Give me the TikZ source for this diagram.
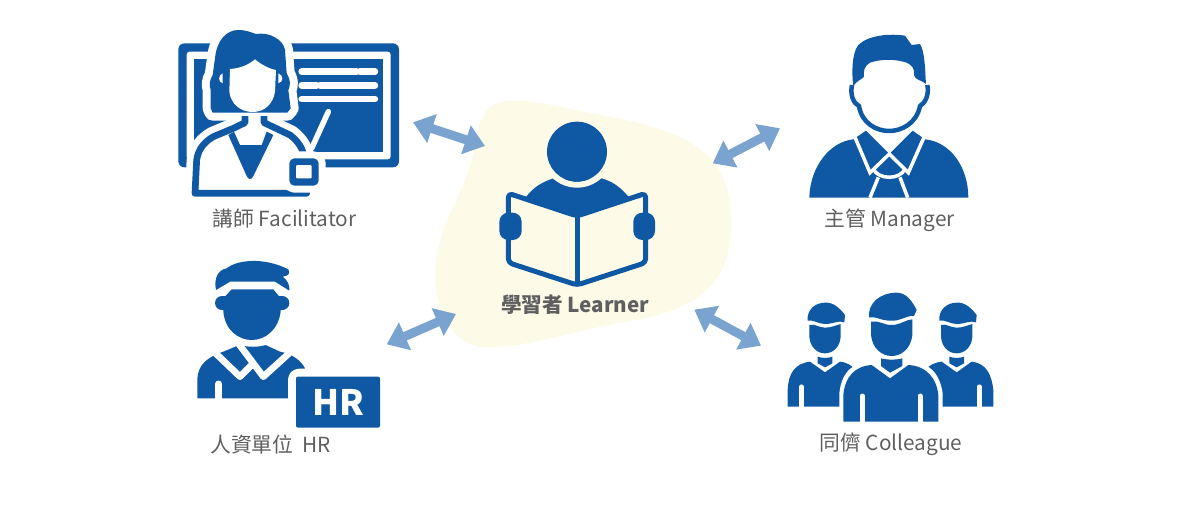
\documentclass[tikz,border=0pt]{standalone}
\usepackage{xcolor}
\usepackage{fontspec}
\setmainfont{Noto Sans CJK TC}
\usetikzlibrary{arrows.meta}
\definecolor{c_icon}{HTML}{0F59A4}
\definecolor{c_arrow}{HTML}{7BA3CF}
\definecolor{c_blob}{HTML}{FDFAE8}
\definecolor{c_text}{HTML}{5F5F5F}
\tikzset{c-label/.style={text=c_text, font=\fontsize{20.8}{24}\selectfont, inner sep=0pt},
arrow/.style={line width=9pt, c_arrow, {Triangle[length=20pt,width=29pt]}-{Triangle[length=20pt,width=29pt]}},
gap/.style={draw=white, line cap=round, line join=round},
ring/.style={draw=c_icon, line join=round}}
\begin{document}
\begin{tikzpicture}[x=1pt, y=-1pt]
\useasboundingbox (0,0) rectangle (1200,507);
\fill [c_blob] (490,107) .. controls (505,95) and (540,102) .. (575,110) .. controls (620,120) and (680,125) .. (712,160) .. controls (735,185) and (735,235) .. (725,262) .. controls (712,300) and (670,315) .. (625,322) .. controls (575,330) and (520,350) .. (480,347) .. controls (445,340) and (432,300) .. (436,262) .. controls (440,220) and (470,185) .. (475,145) .. controls (478,125) and (482,115) .. (490,107) -- cycle;

% facilitator
\begin{scope}[shift={(170,20)}, scale=1/3]
\fill [c_icon, rounded corners=6pt] (25,70) rectangle (687,442);
\fill [white, rounded corners=3pt] (50,95) rectangle (662,418);
\fill [c_icon] (73,118) rectangle (640,395);
\foreach \xa/\xb/\ya in {395/560/155, 570/615/155, 395/440/196, 450/615/196, 395/615/237}
  \draw [white, line width=6.5pt, line cap=round] (\xa,\ya) -- (\xb,\ya);
\draw [white, line width=5.5pt, line cap=round] (475,275) -- (425,385);
\path [gap, line width=20pt, fill=white] (75,520) -- (80,420) .. controls (85,385) and (105,365) .. (130,350) -- (190,325) -- (225,308) -- (225,288) -- (282,288) -- (282,308) -- (360,345) .. controls (380,360) and (395,380) .. (400,400) -- (410,520) -- cycle;
\path [gap, line width=16pt, fill=white] (128,278) -- (122,265) -- (122,210) .. controls (118,195) and (118,180) .. (128,165) -- (135,115) .. controls (140,60) and (170,30) .. (205,30) .. controls (230,30) and (245,38) .. (258,42) .. controls (300,35) and (340,60) .. (345,90) -- (350,160) .. controls (362,180) and (362,195) .. (355,210) -- (362,265) -- (352,278) -- cycle;
\draw [ring, line width=6.7pt] (225,288) -- (225,308) -- (190,325) -- (130,350) .. controls (105,365) and (85,385) .. (80,420) -- (75,520) -- (410,520) -- (400,400) .. controls (395,380) and (380,360) .. (360,345) -- (282,308) -- (282,288);
\fill [c_icon] (175,345) -- (230,468) .. controls (235,480) and (245,480) .. (250,468) -- (310,345) -- (290,335) -- (275,375) -- (210,375) -- (192,335) -- cycle;
\fill [c_icon] (128,278) -- (122,265) -- (122,210) .. controls (118,195) and (118,180) .. (128,165) -- (135,115) .. controls (140,60) and (170,30) .. (205,30) .. controls (230,30) and (245,38) .. (258,42) .. controls (300,35) and (340,60) .. (345,90) -- (350,160) .. controls (362,180) and (362,195) .. (355,210) -- (362,265) -- (352,278) -- cycle;
\fill [white] (180,147) .. controls (210,145) and (235,135) .. (255,118) .. controls (275,135) and (300,147) .. (318,150) -- (315,215) .. controls (310,250) and (285,276) .. (248,276) .. controls (210,276) and (182,250) .. (178,215) -- cycle;
\fill [white] (158,160) .. controls (146,165) and (142,185) .. (158,190) -- cycle (325,160) .. controls (340,165) and (342,185) .. (325,190) -- cycle;
\path [gap, line width=14pt, fill=white, rounded corners=5pt] (358,415) rectangle (446,497);
\fill [c_icon, rounded corners=5pt] (358,415) rectangle (446,497);
\fill [white, rounded corners=1pt] (378,435) rectangle (425,475);
\end{scope}
\node (n_facilitator) [c-label] at (284.5,218.5) {講師 Facilitator};

% hr
\begin{scope}[shift={(180,250)}, scale=1/3]
\fill [c_icon] (108,120) .. controls (102,90) and (110,60) .. (140,55) .. controls (170,30) and (250,20) .. (325,58) .. controls (332,70) and (325,78) .. (308,80) .. controls (322,90) and (330,105) .. (328,122) -- (285,95) -- (150,95) -- cycle;
\fill [c_icon, rounded corners=7pt] (105,138) rectangle (328,180);
\fill [c_icon] (155,118) -- (280,118) -- (302,145) -- (302,185) .. controls (295,240) and (255,270) .. (215,270) .. controls (175,270) and (135,240) .. (130,185) -- (130,145) -- cycle;
\fill [c_icon] (52,445) -- (52,385) .. controls (55,345) and (80,322) .. (130,305) -- (178,285) .. controls (205,292) and (235,292) .. (257,285) -- (300,305) .. controls (340,312) and (365,335) .. (375,355) -- (330,445) -- cycle;
\draw [white, line width=6.7pt, line cap=round, line join=round] (105,308) -- (180,380) -- (218,342);
\draw [white, line width=6.7pt, line cap=round, line join=round] (175,280) -- (250,380) -- (325,312);
\draw [white, line width=7pt, line cap=round] (116,402) -- (116,450);
\path [gap, line width=16pt, fill=white, rounded corners=3pt] (348,380) rectangle (600,533);
\fill [c_icon, rounded corners=2pt] (348,380) rectangle (600,533);
\node (n_badge) [text=white, font=\fontsize{35}{40}\selectfont\bfseries, inner sep=0pt] at (476,456) {HR};
\end{scope}
\node (n_hr) [c-label, anchor=west] at (210,444.5) {人資單位 \ HR};

% learner
\begin{scope}[shift={(480,110)}, scale=1/3]
\fill [c_icon] (135,265) .. controls (160,230) and (190,215) .. (220,205) -- (365,205) .. controls (400,215) and (425,235) .. (445,260) -- (291,318) -- cycle;
\draw [c_blob, line width=6pt] (291,125) circle (99);
\fill [c_icon] (291,125) circle (90);
\draw [ring, line width=5pt, rounded corners=4pt] (85,250) -- (291,318) -- (497,250) -- (497,458) -- (291,525) -- (85,458) -- cycle;
\draw [ring, line width=5pt] (291,318) -- (291,525);
\fill [c_icon, rounded corners=9pt] (58,308) rectangle (125,390);
\fill [c_icon, rounded corners=9pt] (460,308) rectangle (525,390);
\end{scope}
\node (n_learner) [c-label, font=\fontsize{20.6}{24}\selectfont\bfseries] at (575,304.5) {學習者 Learner};

% manager
\begin{scope}[shift={(790,20)}, scale=1/3]
\fill [c_icon] (58,533) .. controls (60,440) and (120,365) .. (190,358) -- (228,332) -- (298,402) -- (368,332) -- (405,358) .. controls (480,365) and (535,440) .. (535,533) -- cycle;
\draw [white, line width=3.5pt, line join=miter] (195,352) -- (240,458) -- (298,402) -- (355,458) -- (402,352);
\draw [white, line width=3.5pt] (250,447) .. controls (265,480) and (330,480) .. (345,447);
\draw [white, line width=3.5pt] (265,472) -- (240,533) (330,472) -- (353,533);
\path [ring, line width=4.5pt, fill=white] (186,195) .. controls (180,225) and (190,250) .. (207,258) .. controls (215,310) and (260,333) .. (297,333) .. controls (335,333) and (380,310) .. (390,258) .. controls (405,250) and (418,225) .. (412,195);
\fill [c_icon] (190,200) .. controls (185,160) and (185,100) .. (205,75) .. controls (235,45) and (300,40) .. (345,47) -- (365,75) -- (390,72) .. controls (405,95) and (405,150) .. (408,192) .. controls (390,178) and (375,180) .. (372,165) .. controls (375,145) and (365,135) .. (350,128) .. controls (310,115) and (270,118) .. (240,128) .. controls (222,138) and (220,155) .. (222,170) .. controls (215,180) and (200,180) .. (190,200) -- cycle;
\end{scope}
\node (n_manager) [c-label] at (889.5,220.5) {主管 Manager};

% colleague
\begin{scope}[shift={(775,280)}, scale=1/3]
\foreach \dx in {0,395}
{
\begin{scope}[shift={(\dx,0)}]
\fill [c_icon] (98,122) .. controls (95,90) and (120,68) .. (150,68) .. controls (175,66) and (195,85) .. (210,105) -- (208,127) .. controls (190,120) and (175,132) .. (150,132) .. controls (130,132) and (115,118) .. (98,122) -- cycle;
\fill [c_icon] (103,135) .. controls (120,130) and (130,143) .. (150,143) .. controls (170,143) and (185,135) .. (197,132) -- (197,170) .. controls (195,200) and (175,220) .. (150,220) .. controls (125,220) and (105,200) .. (103,170) -- cycle;
\fill [c_icon] (128,230) .. controls (140,235) and (160,235) .. (172,230) -- (172,250) -- (150,262) -- (128,250) -- cycle;
\fill [c_icon] (38,380) -- (38,330) .. controls (40,280) and (60,250) .. (105,245) -- (150,277) -- (195,245) .. controls (240,250) and (255,285) .. (260,330) -- (260,380) -- cycle;
\draw [white, line width=4.5pt, line cap=round] (80,320) -- (80,385);
\draw [white, line width=4.5pt, line cap=round] (218,320) -- (218,385);
\end{scope}
}
\path [fill=white] (193,430) -- (193,340) .. controls (200,270) and (240,245) .. (295,243) -- (405,243) .. controls (460,245) and (495,280) .. (503,340) -- (503,430) -- cycle;
\fill [c_icon] (282,112) .. controls (278,70) and (315,38) .. (365,38) .. controls (395,38) and (412,65) .. (425,90) -- (417,108) .. controls (395,105) and (375,125) .. (345,122) .. controls (320,122) and (300,108) .. (282,112) -- cycle;
\fill [c_icon] (288,125) .. controls (310,120) and (325,135) .. (350,135) .. controls (375,135) and (395,118) .. (412,118) -- (412,165) .. controls (408,205) and (380,228) .. (350,228) .. controls (320,228) and (292,205) .. (288,165) -- cycle;
\fill [c_icon] (318,235) .. controls (335,240) and (365,240) .. (382,235) -- (382,258) -- (345,278) -- (318,258) -- cycle;
\fill [c_icon] (205,425) -- (205,345) .. controls (210,290) and (240,258) .. (290,255) -- (345,295) -- (400,255) .. controls (455,258) and (485,295) .. (490,345) -- (490,425) -- cycle;
\draw [white, line width=5pt, line cap=round] (262,348) -- (262,430);
\draw [white, line width=5pt, line cap=round] (435,348) -- (435,430);
\end{scope}
\node (n_colleague) [c-label] at (891,444.5) {同儕 Colleague};

\coordinate (a1) at (413,122.3);
\coordinate (b1) at (485,146);
\coordinate (a2) at (712.7,163.3);
\coordinate (b2) at (780,128.3);
\coordinate (a3) at (386.7,344.3);
\coordinate (b3) at (456,314);
\coordinate (a4) at (694.3,309.7);
\coordinate (b4) at (761,345.7);
\draw [arrow] (a1) -- (b1);
\draw [arrow] (a2) -- (b2);
\draw [arrow] (a3) -- (b3);
\draw [arrow] (a4) -- (b4);
\end{tikzpicture}
\end{document}
